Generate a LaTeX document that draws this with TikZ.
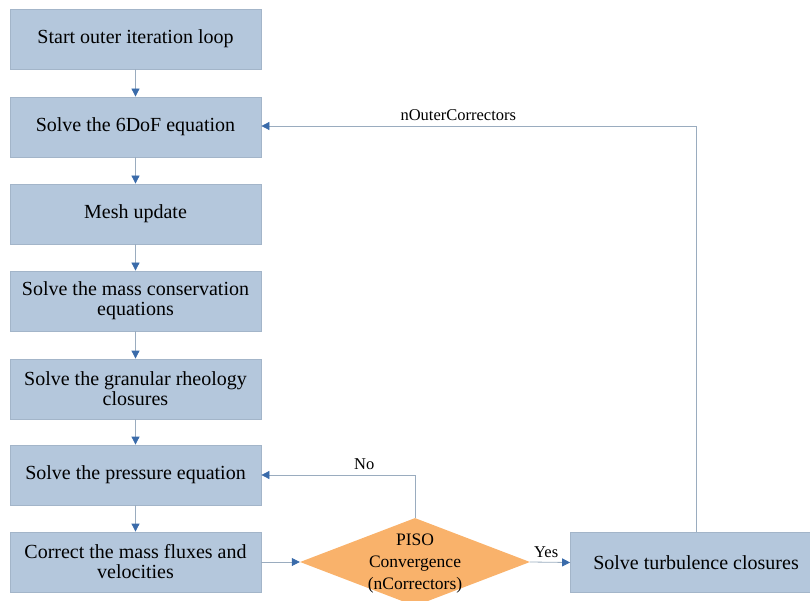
\documentclass[tikz,border=0pt]{standalone}
\usepackage{fontspec}
\setmainfont{Liberation Serif}
\usetikzlibrary{arrows.meta,shapes.geometric}
\definecolor{boxfill}{HTML}{B4C7DC}
\definecolor{boxline}{HTML}{A3B5C9}
\definecolor{diafill}{HTML}{F9B26B}
\definecolor{lineclr}{HTML}{9AACBF}
\definecolor{arrowclr}{HTML}{3A6BAA}
\tikzset{
  stepbox/.style={rectangle, draw=boxline, line width=0.8pt, fill=boxfill,
    minimum width=251pt, minimum height=60pt, inner sep=0pt, align=center,
    font=\fontsize{20}{20}\selectfont},
  conn/.style={draw=lineclr, line width=0.8pt,
    -{Triangle[length=8pt,width=8pt,color=arrowclr]}},
  lbl/.style={font=\fontsize{16.5}{18}\selectfont, inner sep=0pt},
  decision/.style={diamond, fill=diafill, draw=none, inner sep=0pt,
    minimum width=230pt, minimum height=88pt},
}
\begin{document}
\begin{tikzpicture}[x=1pt,y=-1pt]
\useasboundingbox (0,0) rectangle (810,601);
\clip (0,0) rectangle (810,601);
\node[stepbox] (b1) at (135.5,39) {Start outer iteration loop};
\node[stepbox] (b2) at (135.5,127) {Solve the 6DoF equation};
\node[stepbox] (b3) at (135.5,214) {Mesh update};
\node[stepbox] (b4) at (135.5,301) {Solve the mass conservation\\equations};
\node[stepbox] (b5) at (135.5,389) {Solve the granular rheology\\closures};
\node[stepbox] (b6) at (135.5,475) {Solve the pressure equation};
\node[stepbox] (b7) at (135.5,562) {Correct the mass fluxes and\\velocities};
\node[decision] (d) at (415,562) {};
\node[align=center, inner sep=0pt, font=\fontsize{17.5}{22}\selectfont] (dt) at (415,564) {PISO\\Convergence\\(nCorrectors)};
\node[stepbox] (t) at (696,562.5) {Solve turbulence closures};

\draw[conn] (b1) -- (b2);
\draw[conn] (b2) -- (b3);
\draw[conn] (b3) -- (b4);
\draw[conn] (b4) -- (b5);
\draw[conn] (b5) -- (b6);
\draw[conn] (b6) -- (b7);
\draw[conn] (b7) -- (d.west);
\draw[conn] (d.east) -- node[lbl, above=4pt, pos=0.4] (yes) {Yes} (t.west);
\draw[conn] (d.north) |- node[lbl, pos=0.665, above=5pt] (no) {No} (b6.east);
\draw[conn] (t.north) -- (696,126) -- node[lbl, pos=0.547, above=5pt] (noc) {nOuterCorrectors} (b2.east |- 0,126);
\end{tikzpicture}
\end{document}
